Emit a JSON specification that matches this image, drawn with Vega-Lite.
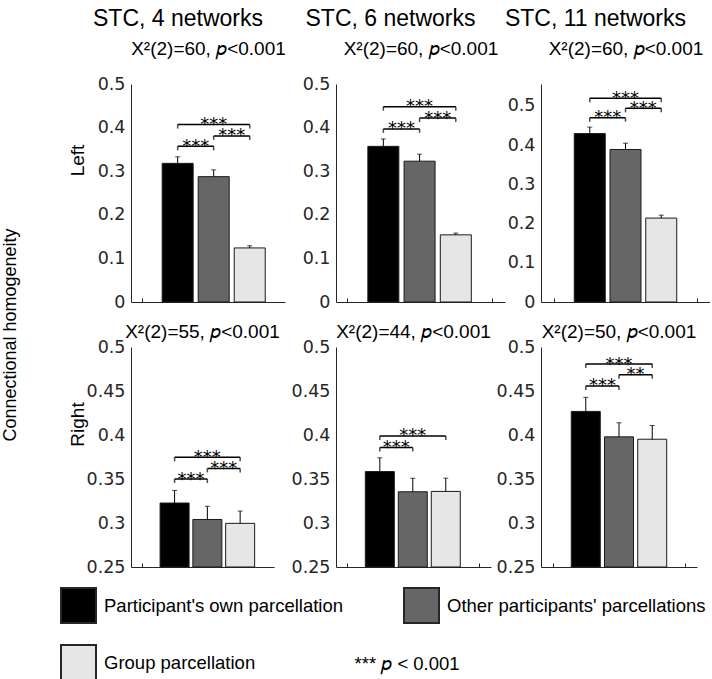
{
  "$schema": "https://vega.github.io/schema/vega-lite/v6.json",
  "background": "white",
  "padding": {"left": 2, "top": 8, "right": 0, "bottom": 0},
  "config": {
    "view": {"stroke": null},
    "font": "Liberation Sans",
    "axis": {
      "grid": false,
      "labelFont": "DejaVu Sans",
      "labelFontSize": 17.5,
      "labelColor": "#262626",
      "domainColor": "#262626",
      "domainWidth": 1,
      "ticks": false,
      "tickSize": 0,
      "labelPadding": 6,
      "titleFont": "Liberation Sans",
      "titleFontWeight": "normal",
      "titleColor": "#000000",
      "titleFontSize": 19
    },
    "title": {"font": "Liberation Sans", "fontSize": 23, "fontWeight": "normal", "color": "#000000", "anchor": "middle", "offset": 8}
  },
  "datasets": {
    "bars": [
      {"panel": "L4", "k": 1, "grp": "Participant's own parcellation", "mean": 0.318, "upper": 0.333},
      {"panel": "L4", "k": 2, "grp": "Other participants' parcellations", "mean": 0.2875, "upper": 0.303},
      {"panel": "L4", "k": 3, "grp": "Group parcellation", "mean": 0.124, "upper": 0.129},
      {"panel": "L6", "k": 1, "grp": "Participant's own parcellation", "mean": 0.357, "upper": 0.374},
      {"panel": "L6", "k": 2, "grp": "Other participants' parcellations", "mean": 0.323, "upper": 0.339},
      {"panel": "L6", "k": 3, "grp": "Group parcellation", "mean": 0.154, "upper": 0.158},
      {"panel": "L11", "k": 1, "grp": "Participant's own parcellation", "mean": 0.4295, "upper": 0.446},
      {"panel": "L11", "k": 2, "grp": "Other participants' parcellations", "mean": 0.389, "upper": 0.405},
      {"panel": "L11", "k": 3, "grp": "Group parcellation", "mean": 0.214, "upper": 0.2215},
      {"panel": "R4", "k": 1, "grp": "Participant's own parcellation", "mean": 0.3227, "upper": 0.337},
      {"panel": "R4", "k": 2, "grp": "Other participants' parcellations", "mean": 0.304, "upper": 0.319},
      {"panel": "R4", "k": 3, "grp": "Group parcellation", "mean": 0.2996, "upper": 0.3136},
      {"panel": "R6", "k": 1, "grp": "Participant's own parcellation", "mean": 0.3584, "upper": 0.374},
      {"panel": "R6", "k": 2, "grp": "Other participants' parcellations", "mean": 0.3355, "upper": 0.3508},
      {"panel": "R6", "k": 3, "grp": "Group parcellation", "mean": 0.3359, "upper": 0.351},
      {"panel": "R11", "k": 1, "grp": "Participant's own parcellation", "mean": 0.4268, "upper": 0.4428},
      {"panel": "R11", "k": 2, "grp": "Other participants' parcellations", "mean": 0.3979, "upper": 0.4139},
      {"panel": "R11", "k": 3, "grp": "Group parcellation", "mean": 0.3952, "upper": 0.4108}
    ],
    "brackets": [
      {"panel": "L4", "from": 1, "to": 2, "level": 0.357, "label": "***"},
      {"panel": "L4", "from": 2, "to": 3, "level": 0.381, "label": "***"},
      {"panel": "L4", "from": 1, "to": 3, "level": 0.407, "label": "***"},
      {"panel": "L6", "from": 1, "to": 2, "level": 0.397, "label": "***"},
      {"panel": "L6", "from": 2, "to": 3, "level": 0.422, "label": "***"},
      {"panel": "L6", "from": 1, "to": 3, "level": 0.448, "label": "***"},
      {"panel": "L11", "from": 1, "to": 2, "level": 0.47, "label": "***"},
      {"panel": "L11", "from": 2, "to": 3, "level": 0.494, "label": "***"},
      {"panel": "L11", "from": 1, "to": 3, "level": 0.5195, "label": "***"},
      {"panel": "R4", "from": 1, "to": 2, "level": 0.35, "label": "***"},
      {"panel": "R4", "from": 2, "to": 3, "level": 0.362, "label": "***"},
      {"panel": "R4", "from": 1, "to": 3, "level": 0.3746, "label": "***"},
      {"panel": "R6", "from": 1, "to": 2, "level": 0.3859, "label": "***"},
      {"panel": "R6", "from": 1, "to": 3, "level": 0.3989, "label": "***"},
      {"panel": "R11", "from": 1, "to": 2, "level": 0.4558, "label": "***"},
      {"panel": "R11", "from": 2, "to": 3, "level": 0.4684, "label": "**"},
      {"panel": "R11", "from": 1, "to": 3, "level": 0.4806, "label": "***"}
    ]
  },
  "title": {"text": "Connectional homogeneity", "orient": "left", "anchor": "middle", "fontSize": 18, "offset": 40, "dx": 11},
  "columns": 3,
  "spacing": {"row": 43, "column": 36},
  "bounds": "flush",
  "align": "all",
  "concat": [
    {
      "width": 154, "height": 218,
      "title": {"text": "STC, 4 networks", "dx": -30},
      "resolve": {"axis": {"x": "independent", "y": "independent"}},
      "layer": [
        {"data": {"name": "bars"}, "transform": [{"filter": "datum.panel === 'L4'"}],
         "mark": {"type": "bar", "size": 31, "stroke": "#1a1a1a", "strokeWidth": 1},
         "encoding": {
           "x": {"field": "k", "type": "quantitative", "scale": {"domain": [-0.156, 3.84], "nice": false, "zero": false}, "axis": {"title": null, "labels": false, "ticks": true, "values": [0], "tickSize": -4, "tickColor": "#262626"}},
           "y": {"field": "mean", "type": "quantitative", "scale": {"domain": [0, 0.5], "nice": false, "zero": false}, "axis": {"values": [0, 0.1, 0.2, 0.3, 0.4, 0.5], "format": "~g", "title": "Left", "titleX": -54, "titleY": 76, "titleAngle": -90, "titleAlign": "center", "titleBaseline": "middle"}},
           "fill": {"field": "grp", "type": "nominal",
             "scale": {"domain": ["Participant's own parcellation", "Other participants' parcellations", "Group parcellation"], "range": ["#000000", "#666666", "#e6e6e6"]},
             "legend": {"orient": "none", "legendX": -71, "legendY": 503, "direction": "horizontal", "columns": 2, "title": null, "symbolType": "square", "symbolSize": 1225, "symbolStrokeColor": "#262626", "symbolStrokeWidth": 2, "labelFont": "Liberation Sans", "labelFontSize": 18.5, "labelColor": "#000000", "labelOffset": 7, "columnPadding": 56, "rowPadding": 14, "labelLimit": 0}}
         }},
        {"data": {"name": "bars"}, "transform": [{"filter": "datum.panel === 'L4'"}],
         "mark": {"type": "rule", "color": "#000000", "strokeWidth": 1},
         "encoding": {"x": {"field": "k", "type": "quantitative", "axis": null}, "y": {"field": "mean", "type": "quantitative", "axis": null}, "y2": {"field": "upper"}}},
        {"data": {"name": "bars"}, "transform": [{"filter": "datum.panel === 'L4'"}],
         "mark": {"type": "tick", "orient": "horizontal", "size": 5, "thickness": 1, "color": "#000000"},
         "encoding": {"x": {"field": "k", "type": "quantitative", "axis": null}, "y": {"field": "upper", "type": "quantitative", "axis": null}}},
        {"data": {"name": "brackets"}, "transform": [{"filter": "datum.panel === 'L4'"}],
         "mark": {"type": "rule", "color": "#000000", "strokeWidth": 1.5},
         "encoding": {"x": {"field": "from", "type": "quantitative", "axis": {"orient": "top", "title": "X²(2)=60, 𝑝<0.001", "labels": false, "ticks": false, "domain": false, "titlePadding": 26}}, "x2": {"field": "to"}, "y": {"field": "level", "type": "quantitative", "axis": null}}},
        {"data": {"name": "brackets"}, "transform": [{"filter": "datum.panel === 'L4'"}],
         "mark": {"type": "tick", "orient": "vertical", "size": 4, "thickness": 1.5, "yOffset": 2, "color": "#000000"},
         "encoding": {"x": {"field": "from", "type": "quantitative", "axis": null}, "y": {"field": "level", "type": "quantitative", "axis": null}}},
        {"data": {"name": "brackets"}, "transform": [{"filter": "datum.panel === 'L4'"}],
         "mark": {"type": "tick", "orient": "vertical", "size": 4, "thickness": 1.5, "yOffset": 2, "color": "#000000"},
         "encoding": {"x": {"field": "to", "type": "quantitative", "axis": null}, "y": {"field": "level", "type": "quantitative", "axis": null}}},
        {"data": {"name": "brackets"}, "transform": [{"filter": "datum.panel === 'L4'"}, {"calculate": "(datum.from + datum.to) / 2", "as": "mid"}],
         "mark": {"type": "text", "font": "DejaVu Sans", "fontSize": 18, "baseline": "alphabetic", "dy": 5.5, "color": "#000000"},
         "encoding": {"x": {"field": "mid", "type": "quantitative", "axis": null}, "y": {"field": "level", "type": "quantitative", "axis": null}, "text": {"field": "label"}}}
      ]
    },
    {
      "width": 169, "height": 218,
      "title": {"text": "STC, 6 networks", "dx": -30},
      "resolve": {"axis": {"x": "independent", "y": "independent"}},
      "layer": [
        {"data": {"name": "bars"}, "transform": [{"filter": "datum.panel === 'L6'"}],
         "mark": {"type": "bar", "size": 31, "stroke": "#1a1a1a", "strokeWidth": 1},
         "encoding": {
           "x": {"field": "k", "type": "quantitative", "scale": {"domain": [-0.169, 4.22], "nice": false, "zero": false}, "axis": {"title": null, "labels": false, "ticks": true, "values": [0, 4], "tickSize": -4, "tickColor": "#262626"}},
           "y": {"field": "mean", "type": "quantitative", "scale": {"domain": [0, 0.5], "nice": false, "zero": false}, "axis": {"values": [0, 0.1, 0.2, 0.3, 0.4, 0.5], "format": "~g", "title": null}},
           "fill": {"field": "grp", "type": "nominal", "legend": null}
         }},
        {"data": {"name": "bars"}, "transform": [{"filter": "datum.panel === 'L6'"}],
         "mark": {"type": "rule", "color": "#000000", "strokeWidth": 1},
         "encoding": {"x": {"field": "k", "type": "quantitative", "axis": null}, "y": {"field": "mean", "type": "quantitative", "axis": null}, "y2": {"field": "upper"}}},
        {"data": {"name": "bars"}, "transform": [{"filter": "datum.panel === 'L6'"}],
         "mark": {"type": "tick", "orient": "horizontal", "size": 5, "thickness": 1, "color": "#000000"},
         "encoding": {"x": {"field": "k", "type": "quantitative", "axis": null}, "y": {"field": "upper", "type": "quantitative", "axis": null}}},
        {"data": {"name": "brackets"}, "transform": [{"filter": "datum.panel === 'L6'"}],
         "mark": {"type": "rule", "color": "#000000", "strokeWidth": 1.5},
         "encoding": {"x": {"field": "from", "type": "quantitative", "axis": {"orient": "top", "title": "X²(2)=60, 𝑝<0.001", "labels": false, "ticks": false, "domain": false, "titlePadding": 26}}, "x2": {"field": "to"}, "y": {"field": "level", "type": "quantitative", "axis": null}}},
        {"data": {"name": "brackets"}, "transform": [{"filter": "datum.panel === 'L6'"}],
         "mark": {"type": "tick", "orient": "vertical", "size": 4, "thickness": 1.5, "yOffset": 2, "color": "#000000"},
         "encoding": {"x": {"field": "from", "type": "quantitative", "axis": null}, "y": {"field": "level", "type": "quantitative", "axis": null}}},
        {"data": {"name": "brackets"}, "transform": [{"filter": "datum.panel === 'L6'"}],
         "mark": {"type": "tick", "orient": "vertical", "size": 4, "thickness": 1.5, "yOffset": 2, "color": "#000000"},
         "encoding": {"x": {"field": "to", "type": "quantitative", "axis": null}, "y": {"field": "level", "type": "quantitative", "axis": null}}},
        {"data": {"name": "brackets"}, "transform": [{"filter": "datum.panel === 'L6'"}, {"calculate": "(datum.from + datum.to) / 2", "as": "mid"}],
         "mark": {"type": "text", "font": "DejaVu Sans", "fontSize": 18, "baseline": "alphabetic", "dy": 5.5, "color": "#000000"},
         "encoding": {"x": {"field": "mid", "type": "quantitative", "axis": null}, "y": {"field": "level", "type": "quantitative", "axis": null}, "text": {"field": "label"}}}
      ]
    },
    {
      "width": 169, "height": 218,
      "title": {"text": "STC, 11 networks", "dx": -30},
      "resolve": {"axis": {"x": "independent", "y": "independent"}},
      "layer": [
        {"data": {"name": "bars"}, "transform": [{"filter": "datum.panel === 'L11'"}],
         "mark": {"type": "bar", "size": 31, "stroke": "#1a1a1a", "strokeWidth": 1},
         "encoding": {
           "x": {"field": "k", "type": "quantitative", "scale": {"domain": [-0.224, 4.224], "nice": false, "zero": false}, "axis": {"title": null, "labels": false, "ticks": true, "values": [0, 4], "tickSize": -4, "tickColor": "#262626"}},
           "y": {"field": "mean", "type": "quantitative", "scale": {"domain": [0, 0.556], "nice": false, "zero": false}, "axis": {"values": [0, 0.1, 0.2, 0.3, 0.4, 0.5], "format": "~g", "title": null}},
           "fill": {"field": "grp", "type": "nominal", "legend": null}
         }},
        {"data": {"name": "bars"}, "transform": [{"filter": "datum.panel === 'L11'"}],
         "mark": {"type": "rule", "color": "#000000", "strokeWidth": 1},
         "encoding": {"x": {"field": "k", "type": "quantitative", "axis": null}, "y": {"field": "mean", "type": "quantitative", "axis": null}, "y2": {"field": "upper"}}},
        {"data": {"name": "bars"}, "transform": [{"filter": "datum.panel === 'L11'"}],
         "mark": {"type": "tick", "orient": "horizontal", "size": 5, "thickness": 1, "color": "#000000"},
         "encoding": {"x": {"field": "k", "type": "quantitative", "axis": null}, "y": {"field": "upper", "type": "quantitative", "axis": null}}},
        {"data": {"name": "brackets"}, "transform": [{"filter": "datum.panel === 'L11'"}],
         "mark": {"type": "rule", "color": "#000000", "strokeWidth": 1.5},
         "encoding": {"x": {"field": "from", "type": "quantitative", "axis": {"orient": "top", "title": "X²(2)=60, 𝑝<0.001", "labels": false, "ticks": false, "domain": false, "titlePadding": 26}}, "x2": {"field": "to"}, "y": {"field": "level", "type": "quantitative", "axis": null}}},
        {"data": {"name": "brackets"}, "transform": [{"filter": "datum.panel === 'L11'"}],
         "mark": {"type": "tick", "orient": "vertical", "size": 4, "thickness": 1.5, "yOffset": 2, "color": "#000000"},
         "encoding": {"x": {"field": "from", "type": "quantitative", "axis": null}, "y": {"field": "level", "type": "quantitative", "axis": null}}},
        {"data": {"name": "brackets"}, "transform": [{"filter": "datum.panel === 'L11'"}],
         "mark": {"type": "tick", "orient": "vertical", "size": 4, "thickness": 1.5, "yOffset": 2, "color": "#000000"},
         "encoding": {"x": {"field": "to", "type": "quantitative", "axis": null}, "y": {"field": "level", "type": "quantitative", "axis": null}}},
        {"data": {"name": "brackets"}, "transform": [{"filter": "datum.panel === 'L11'"}, {"calculate": "(datum.from + datum.to) / 2", "as": "mid"}],
         "mark": {"type": "text", "font": "DejaVu Sans", "fontSize": 18, "baseline": "alphabetic", "dy": 5.5, "color": "#000000"},
         "encoding": {"x": {"field": "mid", "type": "quantitative", "axis": null}, "y": {"field": "level", "type": "quantitative", "axis": null}, "text": {"field": "label"}}}
      ]
    },
    {
      "width": 143, "height": 220,
      "title": {"text": "X²(2)=55, 𝑝<0.001", "fontSize": 19, "offset": -4},
      "resolve": {"axis": {"x": "independent", "y": "independent"}},
      "layer": [
        {"data": {"name": "bars"}, "transform": [{"filter": "datum.panel === 'R4'"}],
         "mark": {"type": "bar", "size": 29, "stroke": "#1a1a1a", "strokeWidth": 1},
         "encoding": {
           "x": {"field": "k", "type": "quantitative", "scale": {"domain": [-0.177, 3.88], "nice": false, "zero": false}, "axis": {"labels": false, "ticks": true, "values": [0], "tickSize": -4, "tickColor": "#262626", "title": "*** 𝑝 < 0.001", "titleX": 223, "titleY": 96.5, "titleAlign": "left", "titleBaseline": "middle", "titleFontSize": 18.5}},
           "y": {"field": "mean", "type": "quantitative", "scale": {"domain": [0.25, 0.5], "nice": false, "zero": false}, "axis": {"values": [0.25, 0.3, 0.35, 0.4, 0.45, 0.5], "format": "~g", "title": "Right", "titleX": -54, "titleY": 77, "titleAngle": -90, "titleAlign": "center", "titleBaseline": "middle"}},
           "y2": {"datum": 0.25},
           "fill": {"field": "grp", "type": "nominal", "legend": null}
         }},
        {"data": {"name": "bars"}, "transform": [{"filter": "datum.panel === 'R4'"}],
         "mark": {"type": "rule", "color": "#000000", "strokeWidth": 1},
         "encoding": {"x": {"field": "k", "type": "quantitative", "axis": null}, "y": {"field": "mean", "type": "quantitative", "axis": null}, "y2": {"field": "upper"}}},
        {"data": {"name": "bars"}, "transform": [{"filter": "datum.panel === 'R4'"}],
         "mark": {"type": "tick", "orient": "horizontal", "size": 5, "thickness": 1, "color": "#000000"},
         "encoding": {"x": {"field": "k", "type": "quantitative", "axis": null}, "y": {"field": "upper", "type": "quantitative", "axis": null}}},
        {"data": {"name": "brackets"}, "transform": [{"filter": "datum.panel === 'R4'"}],
         "mark": {"type": "rule", "color": "#000000", "strokeWidth": 1.5},
         "encoding": {"x": {"field": "from", "type": "quantitative", "axis": null}, "x2": {"field": "to"}, "y": {"field": "level", "type": "quantitative", "axis": null}}},
        {"data": {"name": "brackets"}, "transform": [{"filter": "datum.panel === 'R4'"}],
         "mark": {"type": "tick", "orient": "vertical", "size": 4, "thickness": 1.5, "yOffset": 2, "color": "#000000"},
         "encoding": {"x": {"field": "from", "type": "quantitative", "axis": null}, "y": {"field": "level", "type": "quantitative", "axis": null}}},
        {"data": {"name": "brackets"}, "transform": [{"filter": "datum.panel === 'R4'"}],
         "mark": {"type": "tick", "orient": "vertical", "size": 4, "thickness": 1.5, "yOffset": 2, "color": "#000000"},
         "encoding": {"x": {"field": "to", "type": "quantitative", "axis": null}, "y": {"field": "level", "type": "quantitative", "axis": null}}},
        {"data": {"name": "brackets"}, "transform": [{"filter": "datum.panel === 'R4'"}, {"calculate": "(datum.from + datum.to) / 2", "as": "mid"}],
         "mark": {"type": "text", "font": "DejaVu Sans", "fontSize": 18, "baseline": "alphabetic", "dy": 5.5, "color": "#000000"},
         "encoding": {"x": {"field": "mid", "type": "quantitative", "axis": null}, "y": {"field": "level", "type": "quantitative", "axis": null}, "text": {"field": "label"}}}
      ]
    },
    {
      "width": 155, "height": 220,
      "title": {"text": "X²(2)=44, 𝑝<0.001", "fontSize": 19, "offset": -4},
      "resolve": {"axis": {"x": "independent", "y": "independent"}},
      "layer": [
        {"data": {"name": "bars"}, "transform": [{"filter": "datum.panel === 'R6'"}],
         "mark": {"type": "bar", "size": 29, "stroke": "#1a1a1a", "strokeWidth": 1},
         "encoding": {
           "x": {"field": "k", "type": "quantitative", "scale": {"domain": [-0.177, 4.22], "nice": false, "zero": false}, "axis": {"title": null, "labels": false, "ticks": true, "values": [0, 4], "tickSize": -4, "tickColor": "#262626"}},
           "y": {"field": "mean", "type": "quantitative", "scale": {"domain": [0.25, 0.5], "nice": false, "zero": false}, "axis": {"values": [0.25, 0.3, 0.35, 0.4, 0.45, 0.5], "format": "~g", "title": null}},
           "y2": {"datum": 0.25},
           "fill": {"field": "grp", "type": "nominal", "legend": null}
         }},
        {"data": {"name": "bars"}, "transform": [{"filter": "datum.panel === 'R6'"}],
         "mark": {"type": "rule", "color": "#000000", "strokeWidth": 1},
         "encoding": {"x": {"field": "k", "type": "quantitative", "axis": null}, "y": {"field": "mean", "type": "quantitative", "axis": null}, "y2": {"field": "upper"}}},
        {"data": {"name": "bars"}, "transform": [{"filter": "datum.panel === 'R6'"}],
         "mark": {"type": "tick", "orient": "horizontal", "size": 5, "thickness": 1, "color": "#000000"},
         "encoding": {"x": {"field": "k", "type": "quantitative", "axis": null}, "y": {"field": "upper", "type": "quantitative", "axis": null}}},
        {"data": {"name": "brackets"}, "transform": [{"filter": "datum.panel === 'R6'"}],
         "mark": {"type": "rule", "color": "#000000", "strokeWidth": 1.5},
         "encoding": {"x": {"field": "from", "type": "quantitative", "axis": null}, "x2": {"field": "to"}, "y": {"field": "level", "type": "quantitative", "axis": null}}},
        {"data": {"name": "brackets"}, "transform": [{"filter": "datum.panel === 'R6'"}],
         "mark": {"type": "tick", "orient": "vertical", "size": 4, "thickness": 1.5, "yOffset": 2, "color": "#000000"},
         "encoding": {"x": {"field": "from", "type": "quantitative", "axis": null}, "y": {"field": "level", "type": "quantitative", "axis": null}}},
        {"data": {"name": "brackets"}, "transform": [{"filter": "datum.panel === 'R6'"}],
         "mark": {"type": "tick", "orient": "vertical", "size": 4, "thickness": 1.5, "yOffset": 2, "color": "#000000"},
         "encoding": {"x": {"field": "to", "type": "quantitative", "axis": null}, "y": {"field": "level", "type": "quantitative", "axis": null}}},
        {"data": {"name": "brackets"}, "transform": [{"filter": "datum.panel === 'R6'"}, {"calculate": "(datum.from + datum.to) / 2", "as": "mid"}],
         "mark": {"type": "text", "font": "DejaVu Sans", "fontSize": 18, "baseline": "alphabetic", "dy": 5.5, "color": "#000000"},
         "encoding": {"x": {"field": "mid", "type": "quantitative", "axis": null}, "y": {"field": "level", "type": "quantitative", "axis": null}, "text": {"field": "label"}}}
      ]
    },
    {
      "width": 156, "height": 220,
      "title": {"text": "X²(2)=50, 𝑝<0.001", "fontSize": 19, "offset": -4},
      "resolve": {"axis": {"x": "independent", "y": "independent"}},
      "layer": [
        {"data": {"name": "bars"}, "transform": [{"filter": "datum.panel === 'R11'"}],
         "mark": {"type": "bar", "size": 29, "stroke": "#1a1a1a", "strokeWidth": 1},
         "encoding": {
           "x": {"field": "k", "type": "quantitative", "scale": {"domain": [-0.197, 4.197], "nice": false, "zero": false}, "axis": {"title": null, "labels": false, "ticks": true, "values": [0, 4], "tickSize": -4, "tickColor": "#262626"}},
           "y": {"field": "mean", "type": "quantitative", "scale": {"domain": [0.25, 0.5], "nice": false, "zero": false}, "axis": {"values": [0.25, 0.3, 0.35, 0.4, 0.45, 0.5], "format": "~g", "title": null}},
           "y2": {"datum": 0.25},
           "fill": {"field": "grp", "type": "nominal", "legend": null}
         }},
        {"data": {"name": "bars"}, "transform": [{"filter": "datum.panel === 'R11'"}],
         "mark": {"type": "rule", "color": "#000000", "strokeWidth": 1},
         "encoding": {"x": {"field": "k", "type": "quantitative", "axis": null}, "y": {"field": "mean", "type": "quantitative", "axis": null}, "y2": {"field": "upper"}}},
        {"data": {"name": "bars"}, "transform": [{"filter": "datum.panel === 'R11'"}],
         "mark": {"type": "tick", "orient": "horizontal", "size": 5, "thickness": 1, "color": "#000000"},
         "encoding": {"x": {"field": "k", "type": "quantitative", "axis": null}, "y": {"field": "upper", "type": "quantitative", "axis": null}}},
        {"data": {"name": "brackets"}, "transform": [{"filter": "datum.panel === 'R11'"}],
         "mark": {"type": "rule", "color": "#000000", "strokeWidth": 1.5},
         "encoding": {"x": {"field": "from", "type": "quantitative", "axis": null}, "x2": {"field": "to"}, "y": {"field": "level", "type": "quantitative", "axis": null}}},
        {"data": {"name": "brackets"}, "transform": [{"filter": "datum.panel === 'R11'"}],
         "mark": {"type": "tick", "orient": "vertical", "size": 4, "thickness": 1.5, "yOffset": 2, "color": "#000000"},
         "encoding": {"x": {"field": "from", "type": "quantitative", "axis": null}, "y": {"field": "level", "type": "quantitative", "axis": null}}},
        {"data": {"name": "brackets"}, "transform": [{"filter": "datum.panel === 'R11'"}],
         "mark": {"type": "tick", "orient": "vertical", "size": 4, "thickness": 1.5, "yOffset": 2, "color": "#000000"},
         "encoding": {"x": {"field": "to", "type": "quantitative", "axis": null}, "y": {"field": "level", "type": "quantitative", "axis": null}}},
        {"data": {"name": "brackets"}, "transform": [{"filter": "datum.panel === 'R11'"}, {"calculate": "(datum.from + datum.to) / 2", "as": "mid"}],
         "mark": {"type": "text", "font": "DejaVu Sans", "fontSize": 18, "baseline": "alphabetic", "dy": 5.5, "color": "#000000"},
         "encoding": {"x": {"field": "mid", "type": "quantitative", "axis": null}, "y": {"field": "level", "type": "quantitative", "axis": null}, "text": {"field": "label"}}}
      ]
    }
  ]
}
